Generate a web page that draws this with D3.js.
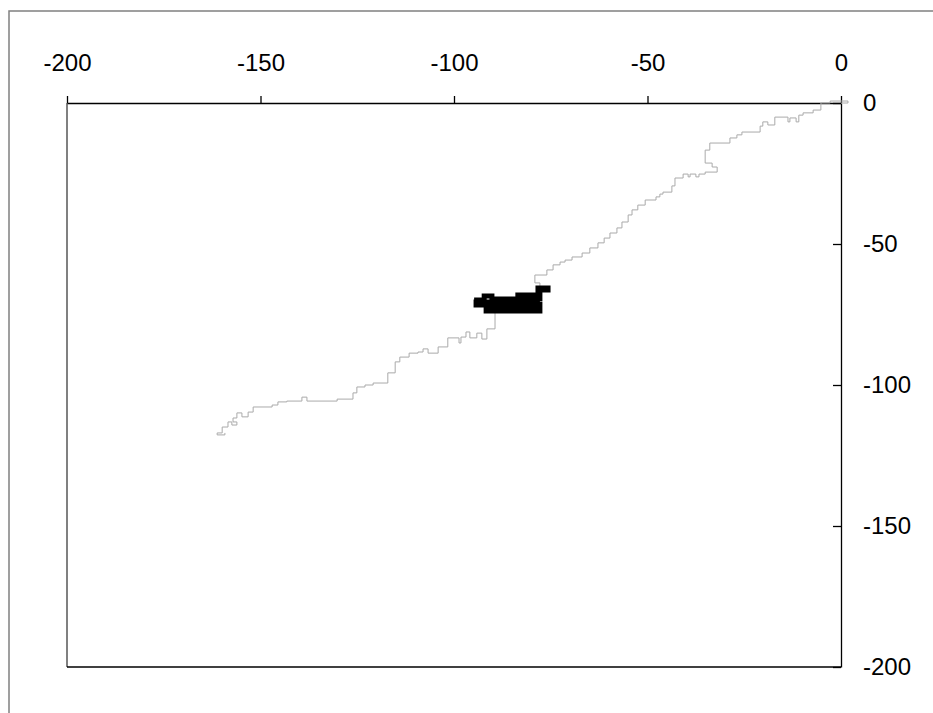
<!DOCTYPE html>
<meta charset="utf-8">
<script src="https://d3js.org/d3.v7.min.js"></script>
<style>
body { margin: 0; background: #fff; }
.tick text { font: 24px "Liberation Sans", Arial, sans-serif; fill: #000; }
.tick line, .domain { stroke: #000; stroke-width: 1.3px; }
path.walk { fill: none; stroke: #aaaaaa; stroke-width: 1px; }
path.cluster { fill: none; stroke: #000; stroke-width: 5px; stroke-linejoin: miter; }
</style>
<body>
<script>

// tick values
var xTicks = [-200, -150, -100, -50, 0];
var yTicks = [0, -50, -100, -150, -200];

// long grey walk as [x, y] corners
var walk = [
  [0, 0], [1.8, 0], [1.8, 0.7], [-2.8, 0.7], [-2.8, 0], [-5.2, 0], [-5.2, -2.5], [-7.2, -2.5],
  [-7.2, -3.5], [-9.8, -3.5], [-9.8, -4.3], [-10.9, -4.3], [-10.9, -6.7], [-11.6, -6.7],
  [-11.6, -5.3], [-13.2, -5.3], [-13.2, -6.7], [-13.7, -6.7], [-13.7, -5.0], [-17.1, -5.0],
  [-17.1, -7.8], [-18.9, -7.8], [-18.9, -6.7], [-20.2, -6.7], [-20.2, -8.2], [-20.9, -8.2],
  [-20.9, -10.3], [-25.6, -10.3], [-25.6, -11.3], [-26.9, -11.3], [-26.9, -12.4], [-28.7, -12.4],
  [-28.7, -14.2], [-33.9, -14.2], [-33.9, -16.7], [-35.1, -16.7], [-35.1, -21.3], [-33.3, -21.3],
  [-33.3, -22.7], [-32.0, -22.7], [-32.0, -24.5], [-35.1, -24.5], [-35.1, -25.2], [-36.7, -25.2],
  [-36.7, -26.2], [-37.5, -26.2], [-37.5, -25.2], [-39.0, -25.2], [-39.0, -26.2], [-39.5, -26.2],
  [-39.5, -25.2], [-40.8, -25.2], [-40.8, -26.6], [-42.9, -26.6], [-42.9, -29.4], [-43.7, -29.4],
  [-43.7, -31.6], [-46.0, -31.6], [-46.0, -32.3], [-46.8, -32.3], [-46.8, -33.3], [-47.8, -33.3],
  [-47.8, -34.4], [-50.6, -34.4], [-50.6, -36.2], [-52.5, -36.2], [-52.5, -37.9], [-54.0, -37.9],
  [-54.0, -39.7], [-55.0, -39.7], [-55.0, -42.2], [-56.6, -42.2], [-56.6, -44.3], [-57.9, -44.3],
  [-57.9, -46.1], [-59.7, -46.1], [-59.7, -47.9], [-61.2, -47.9], [-61.2, -49.6], [-62.8, -49.6],
  [-62.8, -51.4], [-64.9, -51.4], [-64.9, -53.2], [-66.9, -53.2], [-66.9, -54.6], [-69.5, -54.6],
  [-69.5, -55.7], [-71.3, -55.7], [-71.3, -56.4], [-72.6, -56.4], [-72.6, -57.4], [-74.4, -57.4],
  [-74.4, -59.2], [-76.0, -59.2], [-76.0, -61.0], [-79.1, -61.0], [-79.1, -63.8], [-77.8, -63.8],
  [-77.8, -69.9], [-89.4, -69.9],
  [-89.4, -74.5], [-89.4, -80.1], [-91.5, -80.1], [-91.5, -83.7], [-92.8, -83.7], [-92.8, -81.6],
  [-94.1, -81.6], [-94.1, -83.3], [-95.9, -83.3], [-95.9, -81.2], [-96.9, -81.2], [-96.9, -83.0],
  [-98.2, -83.0], [-98.2, -85.1], [-98.7, -85.1], [-98.7, -83.3], [-101.6, -83.3], [-101.6, -86.5],
  [-104.1, -86.5], [-104.1, -88.7], [-106.7, -88.7], [-106.7, -87.2], [-108.0, -87.2],
  [-108.0, -88.3], [-109.3, -88.3], [-109.3, -88.7], [-111.6, -88.7], [-111.6, -90.1],
  [-114.0, -90.1], [-114.0, -91.8], [-115.2, -91.8], [-115.2, -95.7], [-117.1, -95.7],
  [-117.1, -99.3], [-120.9, -99.3], [-120.9, -100.0], [-123.0, -100.0], [-123.0, -100.7],
  [-125.1, -100.7], [-125.1, -102.8], [-126.1, -102.8], [-126.1, -105.0], [-130.2, -105.0],
  [-130.2, -105.7], [-138.0, -105.7], [-138.0, -104.3], [-139.3, -104.3], [-139.3, -105.7],
  [-143.2, -105.7], [-143.2, -106.0], [-145.5, -106.0], [-145.5, -107.1], [-147.0, -107.1],
  [-147.0, -107.8], [-151.9, -107.8], [-151.9, -109.6], [-153.2, -109.6], [-153.2, -111.3],
  [-154.8, -111.3], [-154.8, -109.9], [-156.1, -109.9], [-156.1, -111.7], [-157.1, -111.7],
  [-157.1, -113.1], [-156.1, -113.1], [-156.1, -114.2], [-157.4, -114.2], [-157.4, -113.1],
  [-158.4, -113.1], [-158.4, -114.9], [-159.9, -114.9], [-159.9, -117.0], [-161.2, -117.0],
  [-161.2, -117.7], [-159.2, -117.7], [-159.2, -117.0]
];

// short black walk, stuck in a small patch
var cluster = [
  [-94.8, -69.9], [-92.2, -69.9], [-92.2, -68.4], [-90.2, -68.4], [-90.2, -69.5], [-83.5, -69.5],
  [-83.5, -68.1], [-78.3, -68.1], [-78.3, -65.6], [-75.7, -65.6], [-75.7, -66.3], [-77.8, -66.3],
  [-77.8, -69.5], [-82.9, -69.5], [-82.9, -70.6], [-77.8, -70.6], [-94.3, -70.6], [-94.3, -71.6],
  [-77.8, -71.6], [-77.8, -72.7], [-91.7, -72.7], [-91.7, -73.8], [-77.8, -73.8], [-77.8, -70.6]
];

var width = 933,
    height = 713;

var plotLeft = 67, plotRight = 841, plotTop = 103, plotBottom = 667;

var x = d3.scaleLinear().domain([-200, 0]).range([plotLeft, plotRight]);
var y = d3.scaleLinear().domain([0, -200]).range([plotTop, plotBottom]);

var svg = d3.select("body").append("svg")
    .attr("width", width)
    .attr("height", height);

// outer frame, runs off the right and bottom of the picture
svg.append("rect")
    .attr("x", 9)
    .attr("y", 11)
    .attr("width", 940)
    .attr("height", 720)
    .attr("fill", "none")
    .attr("stroke", "#808080")
    .attr("stroke-width", 1.5);

// left edge grey, bottom edge black
svg.append("line")
    .attr("x1", plotLeft).attr("x2", plotLeft)
    .attr("y1", plotTop).attr("y2", plotBottom)
    .attr("stroke", "#808080")
    .attr("stroke-width", 2);
svg.append("line")
    .attr("x1", plotLeft).attr("x2", plotRight)
    .attr("y1", plotBottom).attr("y2", plotBottom)
    .attr("stroke", "#000")
    .attr("stroke-width", 1.5);

var line = d3.line()
    .x(function(d) { return x(d[0]); })
    .y(function(d) { return y(d[1]); });

// top axis
svg.append("g")
    .attr("transform", "translate(0," + plotTop + ")")
    .call(d3.axisTop(x).tickValues(xTicks).tickFormat(function(d) { return String(d); })
      .tickSizeInner(7).tickSizeOuter(0).tickPadding(25));

// right axis, ticks point inward
var yAxis = svg.append("g")
    .attr("transform", "translate(" + plotRight + ",0)")
    .call(d3.axisRight(y).tickValues(yTicks).tickFormat(function(d) { return String(d); })
      .tickSizeInner(-8).tickSizeOuter(0).tickPadding(22));
yAxis.selectAll(".tick text").attr("text-anchor", "start");

svg.append("path")
    .datum(walk)
    .attr("class", "walk")
    .attr("d", line);

svg.append("path")
    .datum(cluster)
    .attr("class", "cluster")
    .attr("d", line);

</script>
</body>
